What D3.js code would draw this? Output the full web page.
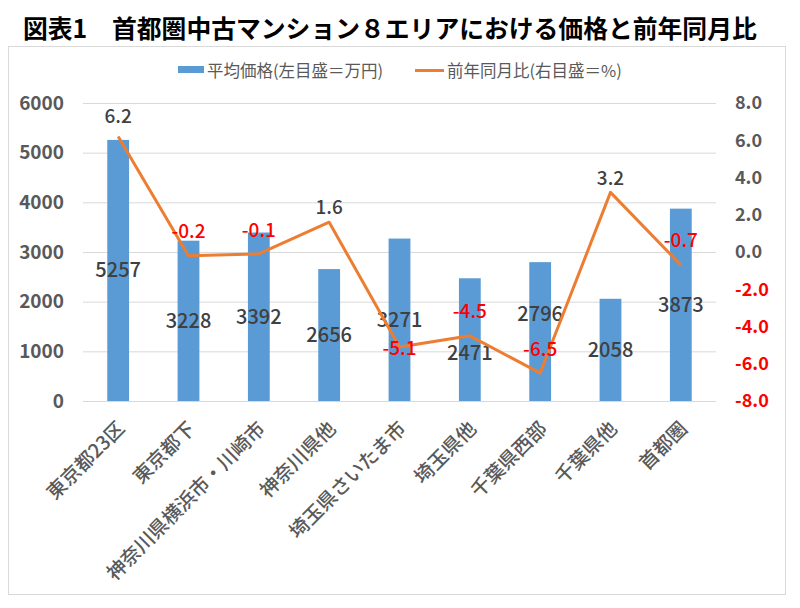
<!DOCTYPE html>
<html><head><meta charset="utf-8">
<script src="https://cdn.jsdelivr.net/npm/d3@7"></script>
<style>
body{margin:0;background:#fff;}
text{font-family:"Noto Sans CJK JP","Noto Sans",sans-serif;}
</style></head>
<body><svg id="c" width="800" height="608"></svg>
<script>
const categories = ["東京都23区","東京都下","神奈川県横浜市・川崎市","神奈川県他","埼玉県さいたま市","埼玉県他","千葉県西部","千葉県他","首都圏"];
const avgPrice = [5257,3228,3392,2656,3271,2471,2796,2058,3873];
const yoyChange = [6.2,-0.2,-0.1,1.6,-5.1,-4.5,-6.5,3.2,-0.7];
const leftTicks = [0,1000,2000,3000,4000,5000,6000];
const rightTicks = [-8,-6,-4,-2,0,2,4,6,8];
const lineLabelShift = [-20,-24,-24,-15,1,-24,-24,-14,-25];
const barLabelShift = [0,0,0,0,0,13,-18,0,0];
const titleText = "図表1　首都圏中古マンション８エリアにおける価格と前年同月比";
const legendBar = "平均価格(左目盛＝万円)";
const legendLine = "前年同月比(右目盛＝%)";

const loc = d3.formatLocale({decimal:".",thousands:",",grouping:[3],currency:["",""],minus:"-"});
const f1 = loc.format(".1f");

const svg = d3.select("#c");
const BLUE="#5B9BD5", ORANGE="#ED7D31", GRAY="#595959", DARK="#404040", RED="#FF0000";

svg.append("rect").attr("x",0).attr("y",0).attr("width",800).attr("height",608).attr("fill","#fff");
svg.append("rect").attr("x",8.5).attr("y",46.5).attr("width",777).attr("height",548)
  .attr("fill","#fff").attr("stroke","#D9D9D9");

svg.append("text").attr("x",23).attr("y",38).attr("font-size",24.8).attr("font-weight","bold")
  .attr("fill","#000").text(titleText);

const x = d3.scaleBand().domain(categories).range([83,716]);
const yL = d3.scaleLinear().domain([0,6000]).range([401,103]);
const yR = d3.scaleLinear().domain([-8,8]).range([401,103]);

// gridlines
svg.append("g").selectAll("line").data(leftTicks).join("line")
  .attr("x1",83).attr("x2",716).attr("y1",d=>yL(d)+0.5).attr("y2",d=>yL(d)+0.5)
  .attr("stroke","#D9D9D9").attr("stroke-width",1);

// left axis
const gL = svg.append("g").attr("transform","translate(64,0)")
  .call(d3.axisLeft(yL).tickValues(leftTicks).tickSize(0).tickPadding(0).tickFormat(d3.format("d")));
gL.select(".domain").remove();
gL.selectAll("text").attr("font-size",19).attr("font-weight","bold").attr("fill",GRAY)
  .attr("font-family",'"Noto Sans CJK JP",sans-serif');

// right axis
const gR = svg.append("g").attr("transform","translate(735,0)")
  .call(d3.axisRight(yR).tickValues(rightTicks).tickSize(0).tickPadding(0).tickFormat(f1));
gR.select(".domain").remove();
gR.selectAll("text").attr("font-size",18).attr("font-weight","bold")
  .attr("fill",d=>d<0?RED:GRAY).attr("font-family",'"Noto Sans CJK JP",sans-serif');

// bars
const bw = x.bandwidth();
svg.append("g").selectAll("rect").data(avgPrice).join("rect")
  .attr("x",(d,i)=>x(categories[i])+bw*0.345).attr("width",bw*0.31)
  .attr("y",d=>yL(d)).attr("height",d=>yL(0)-yL(d)).attr("fill",BLUE);

// bar labels
svg.append("g").selectAll("text").data(avgPrice).join("text")
  .attr("x",(d,i)=>x(categories[i])+bw/2).attr("y",(d,i)=>(yL(d)+yL(0))/2+barLabelShift[i]).attr("dy","0.35em")
  .attr("text-anchor","middle").attr("font-size",20).attr("font-weight",500).attr("fill",DARK).text(d=>d);

// line
const line = d3.line().x((d,i)=>x(categories[i])+bw/2).y(d=>yR(d));
svg.append("path").datum(yoyChange).attr("d",line).attr("fill","none")
  .attr("stroke",ORANGE).attr("stroke-width",3).attr("stroke-linejoin","round");

// line labels
svg.append("g").selectAll("text").data(yoyChange).join("text")
  .attr("x",(d,i)=>x(categories[i])+bw/2).attr("y",(d,i)=>yR(d)+lineLabelShift[i]).attr("dy","0.35em")
  .attr("text-anchor","middle").attr("font-size",19).attr("font-weight",500).attr("fill",d=>d<0?RED:DARK)
  .text(d=>f1(d));

// x labels
svg.append("g").selectAll("text").data(categories).join("text")
  .attr("transform",d=>`translate(${x(d)+bw/2+3},${425}) rotate(-45)`)
  .attr("text-anchor","end").attr("dy","0.35em").attr("font-size",19.5).attr("font-weight",500)
  .attr("fill",GRAY).text(d=>d);

// legend
svg.append("rect").attr("x",178).attr("y",66).attr("width",26).attr("height",7).attr("fill",BLUE);
svg.append("text").attr("x",207).attr("y",76.5).attr("font-size",16.5).attr("fill",GRAY).text(legendBar);
svg.append("line").attr("x1",415).attr("x2",444).attr("y1",70.5).attr("y2",70.5).attr("stroke",ORANGE).attr("stroke-width",3);
svg.append("text").attr("x",447).attr("y",76.5).attr("font-size",16.5).attr("fill",GRAY).text(legendLine);
</script></body></html>
